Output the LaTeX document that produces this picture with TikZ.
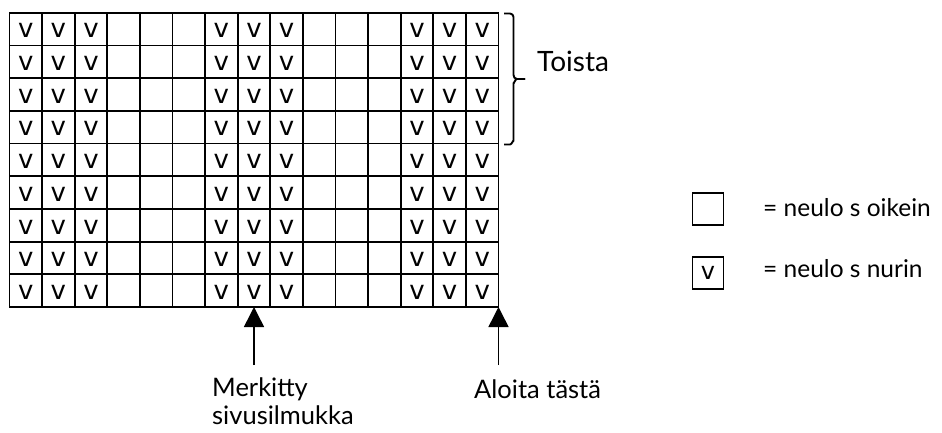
\documentclass[tikz,border=0pt]{standalone}
\usepackage{fontspec}
\setmainfont{Lato}
\newfontfamily\vfont{DejaVu Sans}
\usetikzlibrary{arrows.meta}
\begin{document}
\begin{tikzpicture}[x=1pt,y=-1pt,
  gridline/.style={line width=1.8pt,line cap=rect},
  vmark/.style={inner sep=0pt,font=\vfont\fontsize{26}{28}\selectfont},
  lbl/.style={inner sep=0pt,font=\fontsize{25.5}{28}\selectfont,align=left},
  keytext/.style={inner sep=0pt,font=\fontsize{24.5}{28}\selectfont},
  uparrow/.style={line width=1.5pt,-{Triangle[width=20pt,length=20pt]}},
  keybox/.style={draw,line width=1.5pt,minimum width=31pt,minimum height=32pt,inner sep=0pt,font=\vfont\fontsize{24}{26}\selectfont}]
\useasboundingbox (0,0) rectangle (942,432);
\def\xo{9.5}\def\yo{12.7}\def\cw{32.6}\def\ch{32.7}
% grid
\foreach \i in {0,...,15}{
  \draw[gridline] ({\xo+\i*\cw},\yo) -- ({\xo+\i*\cw},{\yo+9*\ch});
}
\foreach \j in {0,...,9}{
  \draw[gridline] (\xo,{\yo+\j*\ch}) -- ({\xo+15*\cw},{\yo+\j*\ch});
}
% purl marks
\foreach \r in {0,...,8}{
  \foreach \c in {0,1,2,6,7,8,12,13,14}{
    \node[vmark] (v-\r-\c) at ({\xo+(\c+0.5)*\cw},{\yo+(\r+0.55)*\ch}) {v};
  }
}
% bracket
\draw[line width=1.9pt,line join=round] (504,13.5) -- (510,13.5) to[out=0,in=90] (513.5,17) -- (513.5,75)
  to[out=-90,in=180] (517,79) -- (525,79);
\draw[line width=1.9pt,line join=round] (525,79) -- (517,79) to[out=180,in=-90] (513.5,83) -- (513.5,141)
  to[out=90,in=0] (510,144.5) -- (504,144.5);
\node[inner sep=0pt,anchor=base west,font=\fontsize{28}{30}\selectfont] (toista) at (537,71) {Toista};
% arrows
\coordinate (a1top) at ({\xo+7.5*\cw},307);
\coordinate (a1bot) at ({\xo+7.5*\cw},365);
\coordinate (a2top) at ({\xo+15*\cw},307);
\coordinate (a2bot) at ({\xo+15*\cw},365);
\draw[uparrow] (a1bot) -- (a1top);
\draw[uparrow] (a2bot) -- (a2top);
\node[lbl,anchor=base west] (merk) at (212,424) {Merkitty\\sivusilmukka};
\node[lbl,anchor=base west] (aloita) at (474,398) {Aloita tästä};
% legend
\node[keybox] (k1) at (708,209) {};
\node[keybox] (k2) at (708,273) {v};
\node[keytext,anchor=base west] (t1) at (763,216) {= neulo s oikein};
\node[keytext,anchor=base west] (t2) at (763,277) {= neulo s nurin};
\end{tikzpicture}
\end{document}
